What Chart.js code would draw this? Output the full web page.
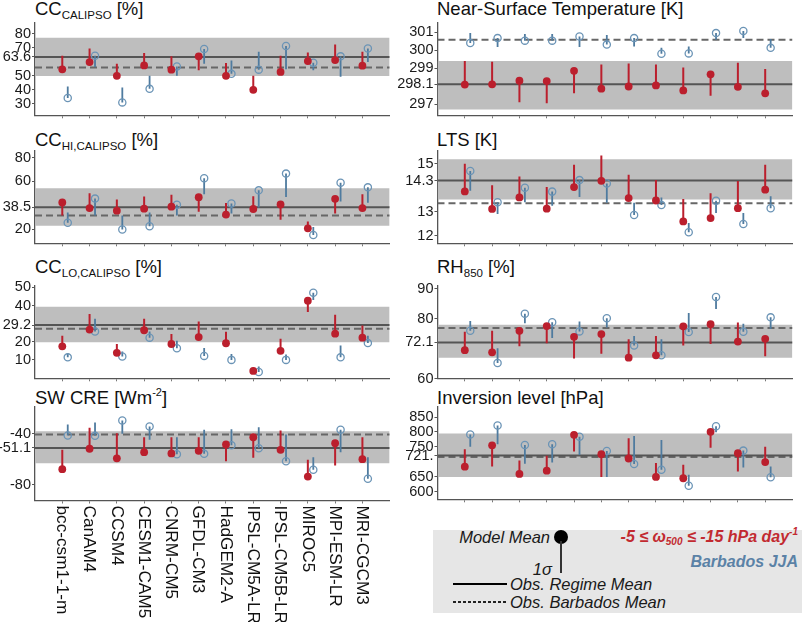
<!DOCTYPE html>
<html>
<head>
<meta charset="utf-8">
<script src="https://cdn.jsdelivr.net/npm/chart.js@4.4.1/dist/chart.umd.min.js"></script>
<style>
html,body{margin:0;padding:0;background:#fff;}
body{width:802px;height:622px;position:relative;overflow:hidden;font-family:"Liberation Sans",Arial,Helvetica,sans-serif;color:#111;}
canvas{position:absolute;}
.title{position:absolute;font-size:18.5px;line-height:1;white-space:nowrap;color:#111;}
.title sub{font-size:11.5px;line-height:0;vertical-align:-4px;}
.title sup{font-size:11px;line-height:0;vertical-align:8px;}
.lg{position:absolute;white-space:nowrap;line-height:1;}
.it{font-style:italic;font-size:16.5px;color:#1a1a1a;}
.bi{font-style:italic;font-weight:bold;font-size:16px;}
.bi sub{font-size:10px;line-height:0;vertical-align:-3px;}
.bi sup{font-size:10px;line-height:0;vertical-align:7px;}
</style>
</head>
<body>
<div class="title" style="left:35px;top:0px;">CC<sub>CALIPSO</sub> [%]</div>
<div class="title" style="left:437px;top:0px;">Near-Surface Temperature [K]</div>
<div class="title" style="left:35px;top:131px;">CC<sub>HI,CALIPSO</sub> [%]</div>
<div class="title" style="left:437px;top:131px;">LTS [K]</div>
<div class="title" style="left:35px;top:258px;">CC<sub>LO,CALIPSO</sub> [%]</div>
<div class="title" style="left:437px;top:258px;">RH<sub>850</sub> [%]</div>
<div class="title" style="left:35px;top:388.5px;">SW CRE [Wm<sup>-2</sup>]</div>
<div class="title" style="left:437px;top:388.5px;">Inversion level [hPa]</div>

<div style="position:absolute;left:433px;top:530px;width:369px;height:83px;background:#e6e6e6;"></div>
<div class="lg it" style="right:252px;top:529px;">Model Mean</div>
<div style="position:absolute;left:554px;top:530px;width:14px;height:14px;border-radius:50%;background:#000;"></div>
<div style="position:absolute;left:560px;top:541px;width:2px;height:32px;background:#333;"></div>
<div class="lg it" style="right:250px;top:561px;">1σ</div>
<div class="lg bi" style="right:4px;top:529px;color:#c22a30;">-5 ≤ ω<sub>500</sub> ≤ -15 hPa day<sup>-1</sup></div>
<div class="lg bi" style="right:4px;top:554px;color:#5b82a6;">Barbados JJA</div>
<div style="position:absolute;left:453px;top:583px;width:54px;height:2px;background:#000;"></div>
<div class="lg it" style="left:510px;top:576px;">Obs. Regime Mean</div>
<div style="position:absolute;left:453px;top:601px;width:54px;height:1.5px;background:repeating-linear-gradient(90deg,#222 0 3px,transparent 3px 5px);"></div>
<div class="lg it" style="left:510px;top:594px;">Obs. Barbados Mean</div>

<script>
// ---------------- DATA ----------------
const models = ['bcc-csm1-1-m','CanAM4','CCSM4','CESM1-CAM5','CNRM-CM5','GFDL-CM3','HadGEM2-A','IPSL-CM5A-LR','IPSL-CM5B-LR','MIROC5','MPI-ESM-LR','MRI-CGCM3'];

// CC_CALIPSO [%]  (model mean and mean±1σ end, for regime and Barbados)
const ccRegime       = [54.7, 59.9, 50.1, 57.5, 54.5, 64.0, 50.1, 40.1, 52.9, 60.6, 61.3, 57.3];
const ccRegimeEnd    = [64.4, 69.6, 58.7, 66.3, 64.0, 54.0, 59.2, 50.1, 64.4, 66.8, 72.4, 67.2];
const ccBarbados     = [34.2, 64.4, 31.1, 40.8, 56.8, 69.3, 51.5, 54.5, 71.4, 59.4, 64.0, 69.6];
const ccBarbadosEnd  = [42.5, 56.4, 41.8, 50.1, 50.1, 58.7, 61.0, 67.2, 54.7, 54.0, 49.4, 59.9];
const ccObs          = [63.6, 56.0];          // regime mean, Barbados mean
const ccObsRange     = [50.0, 77.2];
const ccTicks        = [30, 40, 50, 63.6, 70, 80];
const ccTickLabels   = ['30','40','50','63.6','70','80'];

// CC_HI,CALIPSO [%]
const hiRegime       = [42.5, 37.8, 35.6, 37.3, 38.9, 46.9, 32.3, 37.0, 40.8, 20.8, 45.5, 37.8];
const hiRegimeEnd    = [31.5, 50.2, 44.9, 47.4, 49.0, 34.6, 42.0, 47.7, 28.0, 26.6, 33.2, 49.4];
const hiBarbados     = [25.5, 45.7, 19.8, 22.5, 40.6, 62.7, 41.6, 52.6, 66.6, 15.3, 58.9, 55.1];
const hiBarbadosEnd  = [34.0, 31.5, 31.5, 34.0, 31.5, 49.4, 33.2, 38.3, 47.1, 21.9, 43.3, 42.2];
const hiObs          = [38.5, 31.6];
const hiObsRange     = [23.0, 54.3];
const hiTicks        = [20, 38.5, 60, 80];
const hiTickLabels   = ['20','38.5','60','80'];

// CC_LO,CALIPSO [%]
const loRegime       = [17.4, 26.7, 13.8, 26.3, 18.7, 22.5, 19.1, 3.8, 14.9, 42.7, 24.4, 22.2];
const loRegimeEnd    = [23.3, 35.3, 18.7, 32.7, 24.2, 31.1, 25.5, 5.6, 21.6, 36.4, 34.9, 29.0];
const loBarbados     = [11.3, 25.6, 11.8, 22.2, 16.3, 12.1, 9.9, 3.2, 9.9, 47.1, 11.3, 19.2];
const loBarbadosEnd  = [13.6, 32.7, 14.5, 25.6, 20.5, 16.5, 13.2, 6.3, 12.9, 43.1, 17.8, 23.3];
const loObs          = [29.2, 27.1];
const loObsRange     = [19.6, 39.3];
const loTicks        = [10, 20, 29.2, 40, 50];
const loTickLabels   = ['10','20','29.2','40','50'];

// SW CRE [W m-2]
const swRegime       = [-67.9, -51.8, -59.3, -54.5, -55.5, -53.4, -48.4, -42.7, -52.6, -73.7, -47.4, -60.0];
const swRegimeEnd    = [-52.6, -35.3, -39.5, -42.7, -42.7, -42.7, -61.6, -58.9, -37.4, -60.5, -65.0, -42.7];
const swBarbados     = [-41.3, -41.6, -29.5, -34.2, -56.1, -55.8, -49.0, -51.4, -61.6, -68.4, -36.8, -75.5];
const swBarbadosEnd  = [-32.7, -31.1, -40.0, -44.7, -42.7, -36.8, -36.4, -34.8, -40.6, -58.5, -54.5, -58.5];
const swObs          = [-51.1, -40.6];
const swObsRange     = [-63.2, -38.0];
const swTicks        = [-80, -51.1, -40];
const swTickLabels   = ['-80','-51.1','-40'];

// Near-Surface Temperature [K]
const tRegime        = [298.09, 298.10, 298.30, 298.28, 298.85, 297.86, 297.98, 298.04, 297.76, 298.66, 297.96, 297.60];
const tRegimeEnd     = [299.40, 299.35, 297.10, 297.05, 297.60, 299.20, 299.26, 299.20, 299.04, 297.46, 299.30, 298.95];
const tBarbados      = [300.40, 300.67, 300.53, 300.53, 300.76, 300.31, 300.67, 299.80, 299.82, 300.95, 301.07, 300.13];
const tBarbadosEnd   = [300.95, 300.18, 300.90, 300.90, 300.18, 300.84, 300.20, 300.13, 300.20, 300.58, 300.67, 300.62];
const tObs           = [298.1, 300.58];
const tObsRange      = [296.7, 299.4];
const tTicks         = [297, 298.1, 299, 300, 301];
const tTickLabels    = ['297','298.1','299','300','301'];

// LTS [K]
const ltsRegime      = [13.85, 13.12, 13.60, 13.13, 14.03, 14.29, 13.57, 13.47, 12.60, 12.74, 13.15, 13.92];
const ltsRegimeEnd   = [15.00, 14.10, 14.47, 14.03, 14.96, 15.34, 14.54, 14.32, 13.53, 13.77, 14.28, 14.96];
const ltsBarbados    = [14.70, 13.40, 14.00, 13.84, 14.32, 14.18, 12.87, 13.28, 12.15, 13.46, 12.49, 13.15];
const ltsBarbadosEnd = [13.88, 12.91, 13.40, 13.25, 13.62, 13.38, 13.38, 13.60, 12.53, 12.95, 12.95, 13.65];
const ltsObs         = [14.3, 13.36];
const ltsObsRange    = [13.51, 15.19];
const ltsTicks       = [12, 13, 14.3, 15];
const ltsTickLabels  = ['12','13','14.3','15'];

// RH850 [%]
const rhRegime       = [69.5, 68.8, 76.0, 77.6, 74.0, 74.9, 67.0, 67.8, 77.5, 78.2, 72.4, 73.3];
const rhRegimeEnd    = [75.7, 76.0, 70.8, 71.8, 66.7, 68.3, 73.2, 74.3, 71.1, 71.6, 78.8, 67.5];
const rhBarbados     = [76.0, 65.2, 81.7, 78.9, 75.8, 80.2, 71.1, 67.8, 75.6, 87.3, 75.7, 80.5];
const rhBarbadosEnd  = [79.3, 70.2, 78.5, 73.6, 79.1, 77.1, 74.3, 73.2, 82.0, 83.3, 78.4, 76.6];
const rhObs          = [72.1, 76.9];
const rhObsRange     = [67.0, 78.0];
const rhTicks        = [60, 72.1, 80, 90];
const rhTickLabels   = ['60','72.1','80','90'];

// Inversion level [hPa]
const invRegime      = [683.7, 755.4, 659.5, 670.4, 790.5, 725.7, 711.1, 649.6, 645.0, 800.4, 729.0, 699.2];
const invRegimeEnd   = [742.2, 684.7, 704.5, 720.0, 734.3, 649.6, 778.6, 695.9, 690.3, 747.5, 668.0, 750.8];
const invBarbados    = [791.8, 821.6, 756.4, 758.7, 783.9, 736.6, 692.6, 673.7, 619.8, 819.2, 737.6, 648.3];
const invBarbadosEnd = [750.8, 758.7, 693.6, 697.9, 723.3, 649.6, 786.2, 773.0, 657.0, 799.4, 681.4, 684.7];
const invObs         = [721.1, 716.0];
const invObsRange    = [649.6, 795.1];
const invTicks       = [600, 650, 721.1, 750, 800, 850];
const invTickLabels  = ['600','650','721.','750','800','850'];

// ---------------- PANELS ----------------
const panels = [
  {col:0,row:0,r:ccRegime,re:ccRegimeEnd,b:ccBarbados,be:ccBarbadosEnd,obs:ccObs,band:ccObsRange,ticks:ccTicks,labels:ccTickLabels,min:21.9,max:87.8},
  {col:0,row:1,r:hiRegime,re:hiRegimeEnd,b:hiBarbados,be:hiBarbadosEnd,obs:hiObs,band:hiObsRange,ticks:hiTicks,labels:hiTickLabels,min:8.3,max:85.5},
  {col:0,row:2,r:loRegime,re:loRegimeEnd,b:loBarbados,be:loBarbadosEnd,obs:loObs,band:loObsRange,ticks:loTicks,labels:loTickLabels,min:-0.3,max:50.8},
  {col:0,row:3,r:swRegime,re:swRegimeEnd,b:swBarbados,be:swBarbadosEnd,obs:swObs,band:swObsRange,ticks:swTicks,labels:swTickLabels,min:-92.6,max:-18.85},
  {col:1,row:0,r:tRegime,re:tRegimeEnd,b:tBarbados,be:tBarbadosEnd,obs:tObs,band:tObsRange,ticks:tTicks,labels:tTickLabels,min:296.38,max:301.51},
  {col:1,row:1,r:ltsRegime,re:ltsRegimeEnd,b:ltsBarbados,be:ltsBarbadosEnd,obs:ltsObs,band:ltsObsRange,ticks:ltsTicks,labels:ltsTickLabels,min:11.69,max:15.53},
  {col:1,row:2,r:rhRegime,re:rhRegimeEnd,b:rhBarbados,be:rhBarbadosEnd,obs:rhObs,band:rhObsRange,ticks:rhTicks,labels:rhTickLabels,min:60.1,max:91.0},
  {col:1,row:3,r:invRegime,re:invRegimeEnd,b:invBarbados,be:invBarbadosEnd,obs:invObs,band:invObsRange,ticks:invTicks,labels:invTickLabels,min:574.5,max:883.7}
];

const colGeom = [{left:0, axisX:35, right:390},{left:394, axisX:437.5, right:792.5}];
const rowGeom = [{top:23,bottom:117},{top:151,bottom:245},{top:286,bottom:379.5},{top:406.5,bottom:500}];

const RED = '#bb1f2d', BLUE_L = '#4f7b9f', BLUE_C = '#6b94b6', BAND = '#bebebe', SOLID = '#555555', DASH = '#676767';
const FONT = '"Liberation Sans", Arial, Helvetica, sans-serif';
const BOFF = 0.2;

const pts  = (vals, off) => vals.map((v,i) => ({x:i+1+off, y:v}));
const segs = (vals, ends, off) => vals.flatMap((v,i) => [{x:i+1+off,y:v},{x:i+1+off,y:ends[i]},{x:i+1+off,y:null}]);
const hline = v => [{x:0,y:v},{x:models.length+1,y:v}];

const labelPlugin = {
  id:'modelLabels',
  afterDraw(chart){
    const x = chart.scales.x, ctx = chart.ctx;
    ctx.save();
    ctx.font = '17.2px ' + FONT;
    ctx.fillStyle = '#111';
    ctx.textAlign = 'left';
    ctx.textBaseline = 'middle';
    models.forEach((m,i) => {
      ctx.save();
      ctx.translate(x.getPixelForValue(i+1) - 0.5, chart.chartArea.bottom + 5);
      ctx.rotate(Math.PI/2);
      ctx.fillText(m, 0, 0);
      ctx.restore();
    });
    ctx.restore();
  }
};

panels.forEach(p => {
  const cg = colGeom[p.col], rg = rowGeom[p.row];
  const padTop = 10, xH = 6;
  const plotH = rg.bottom - rg.top;
  const cTop = rg.top - padTop;
  const withLabels = (p.col === 0 && p.row === 3);
  const cH = withLabels ? Math.round(622 - cTop) : Math.ceil(padTop + plotH + xH + 2);
  const cW = Math.ceil(cg.right - cg.left + 5);
  const padBottom = cH - padTop - plotH - xH;
  const padRight = cW - (cg.right - cg.left);
  const cv = document.createElement('canvas');
  cv.width = cW; cv.height = cH;
  cv.style.left = cg.left + 'px'; cv.style.top = cTop + 'px';
  cv.style.width = cW + 'px'; cv.style.height = cH + 'px';
  document.body.appendChild(cv);

  new Chart(cv.getContext('2d'), {
    type:'line',
    data:{datasets:[
      {data:pts(p.r,0), showLine:false, pointRadius:3.9, pointBackgroundColor:RED, pointBorderColor:RED, pointBorderWidth:0, order:0, clip:false},
      {data:pts(p.b,BOFF), showLine:false, pointRadius:3.6, pointBackgroundColor:'rgba(255,255,255,0)', pointBorderColor:BLUE_C, pointBorderWidth:1.3, order:0, clip:false},
      {data:segs(p.r,p.re,0), borderColor:RED, borderWidth:2, pointRadius:0, spanGaps:false, order:1, clip:false},
      {data:segs(p.b,p.be,BOFF), borderColor:BLUE_L, borderWidth:1.8, pointRadius:0, spanGaps:false, order:1, clip:false},
      {data:hline(p.obs[0]), borderColor:SOLID, borderWidth:2, pointRadius:0, order:2},
      {data:hline(p.obs[1]), borderColor:DASH, borderWidth:2, borderDash:[7,4], pointRadius:0, order:2},
      {data:hline(p.band[1]), borderColor:'rgba(0,0,0,0)', borderWidth:0, pointRadius:0, fill:false, order:3},
      {data:hline(p.band[0]), borderColor:'rgba(0,0,0,0)', borderWidth:0, pointRadius:0, fill:'-1', backgroundColor:BAND, order:3}
    ]},
    options:{
      responsive:false, animation:false, devicePixelRatio:1, events:[],
      layout:{padding:{top:padTop, right:padRight, bottom:padBottom, left:0}},
      plugins:{legend:{display:false}, tooltip:{enabled:false}, title:{display:false}},
      scales:{
        x:{type:'linear', min:0, max:models.length+1,
           afterBuildTicks:s => { s.ticks = models.map((_,i) => ({value:i+1})); },
           afterFit:s => { s.height = xH; },
           ticks:{display:false, autoSkip:false},
           grid:{display:true, drawOnChartArea:false, drawTicks:true, tickLength:3, color:'#777', lineWidth:1},
           border:{display:true, color:'#555', width:1.3}},
        y:{type:'linear', min:p.min, max:p.max,
           afterBuildTicks:s => { s.ticks = p.ticks.map(v => ({value:v})); },
           afterFit:s => { s.width = cg.axisX - cg.left; },
           ticks:{autoSkip:false, padding:1, color:'#1a1a1a', font:{family:FONT, size:14.5}, callback:(v,i) => p.labels[i]},
           grid:{display:true, drawOnChartArea:false, drawTicks:true, tickLength:3, color:'#555', lineWidth:1},
           border:{display:true, color:'#555', width:1.3}}
      }
    },
    plugins: withLabels ? [labelPlugin] : []
  });
});
</script>
</body>
</html>
